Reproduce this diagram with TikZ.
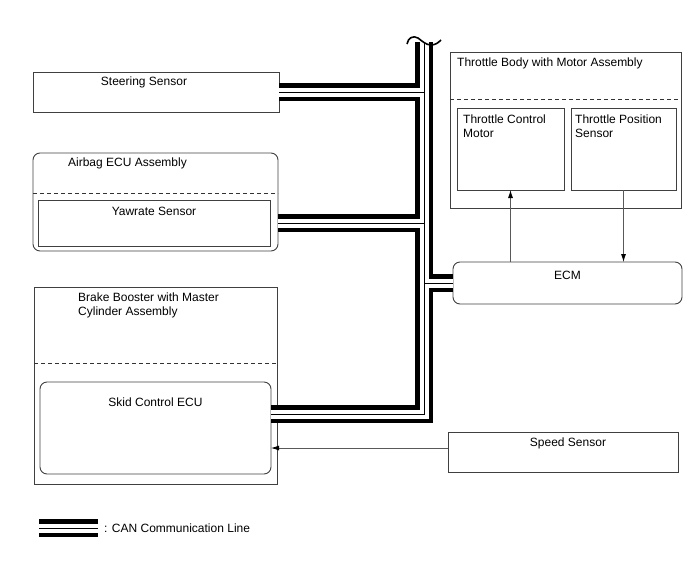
\documentclass[tikz,border=0pt]{standalone}
\usepackage{fontspec}
\setmainfont{Liberation Sans}
\usetikzlibrary{arrows.meta,positioning}

\begin{document}
\begin{tikzpicture}[
  x=1pt, y=-1pt,
  every node/.style={font=\fontsize{12}{14}\selectfont},
  box/.style={draw=black!75, line width=0.9pt, inner sep=0pt, outer sep=0pt},
  rbox/.style={box, rounded corners=7pt},
  lbl/.style={inner sep=0pt, align=center},
  lbll/.style={inner sep=0pt, align=left},
  sep/.style={draw=black!80, line width=0.9pt, dash pattern=on 4pt off 3pt},
  arr/.style={-{Latex[length=8pt,width=5pt,color=black]}, draw=black!65, line width=0.8pt},
  can/.style={draw=black, line width=18pt, line cap=butt, line join=miter,
    postaction={draw=white, line width=9pt},
    postaction={draw=black, line width=1pt}}
]
\useasboundingbox (0,0) rectangle (688,560);

\node[box, minimum width=246pt, minimum height=40pt] (steer) at (156,92) {};
\node[lbl, below=5pt of steer.north, xshift=-12pt] (steertxt) {Steering Sensor};

\node[rbox, minimum width=245pt, minimum height=98pt] (airbag) at (155.5,202) {};
\node[lbl, below=5pt of airbag.north, xshift=-28pt] (airbagtxt) {Airbag ECU Assembly};
\node[box, minimum width=232pt, minimum height=46pt] (yaw) at (154,223) {};
\node[lbl, below=7pt of yaw.north] (yawtxt) {Yawrate Sensor};

\node[box, minimum width=243pt, minimum height=197pt] (brake) at (155.5,385.5) {};
\node[lbll, below right=6pt and 44pt of brake.north west] (braketxt) {Brake Booster with Master\\Cylinder Assembly};
\node[rbox, minimum width=231pt, minimum height=92pt] (skid) at (155.5,428) {};
\node[lbl, below=16pt of skid.north] (skidtxt) {Skid Control ECU};

\node[box, minimum width=231pt, minimum height=156pt] (tbody) at (565.5,130) {};
\node[lbll, below right=6pt and 7pt of tbody.north west] (tbodytxt) {Throttle Body with Motor Assembly};
\node[box, minimum width=107pt, minimum height=82pt] (tcm) at (510.5,149) {};
\node[lbll, below right=7pt and 6pt of tcm.north west] (tcmtxt) {Throttle Control\\Motor};
\node[box, minimum width=105pt, minimum height=82pt] (tps) at (623.5,149) {};
\node[lbll, below right=7pt and 4pt of tps.north west] (tpstxt) {Throttle Position\\Sensor};

\node[rbox, minimum width=229pt, minimum height=42pt] (ecm) at (567.5,283) {};
\node[lbl, below=9pt of ecm.north] (ecmtxt) {ECM};

\node[box, minimum width=230pt, minimum height=40pt] (speed) at (563,452) {};
\node[lbl, below=6pt of speed.north, xshift=5pt] (speedtxt) {Speed Sensor};

\draw[sep] (airbag.west |- 0,193) -- (airbag.east |- 0,193);
\draw[sep] (brake.west |- 0,363) -- (brake.east |- 0,363);
\draw[sep] (tbody.west |- 0,99) -- (tbody.east |- 0,99);

% CAN bus
\coordinate (bustop) at (424,42);
\coordinate (buscorner) at (424,414);
\draw[can] (bustop) -- (buscorner) -- (buscorner -| skid.east)
  (steer.east) -- (steer.east -| bustop)
  (airbag.east |- yaw.east) -- (yaw.east -| bustop)
  (ecm.west) -- (ecm.west -| bustop);
\draw[line width=1.6pt] (407,44) .. controls (408,38) and (413,35) .. (418,38)
  .. controls (422,41) and (426,45) .. (431,45) .. controls (435,45) and (438,43) .. (441,40);

\draw[arr] (ecm.north -| tcm) -- (tcm.south);
\draw[arr] (tps.south) -- (tps.south |- ecm.north);
\draw[arr] ([yshift=4pt]speed.west) -- ([yshift=4pt]speed.west -| skid.east);

% legend
\coordinate (legA) at (39,528);
\coordinate (legB) at (98,528);
\draw[can] (legA) -- (legB);
\node[lbl, right=6pt of legB] (legtxt) {: CAN Communication Line};
\end{tikzpicture}
\end{document}
